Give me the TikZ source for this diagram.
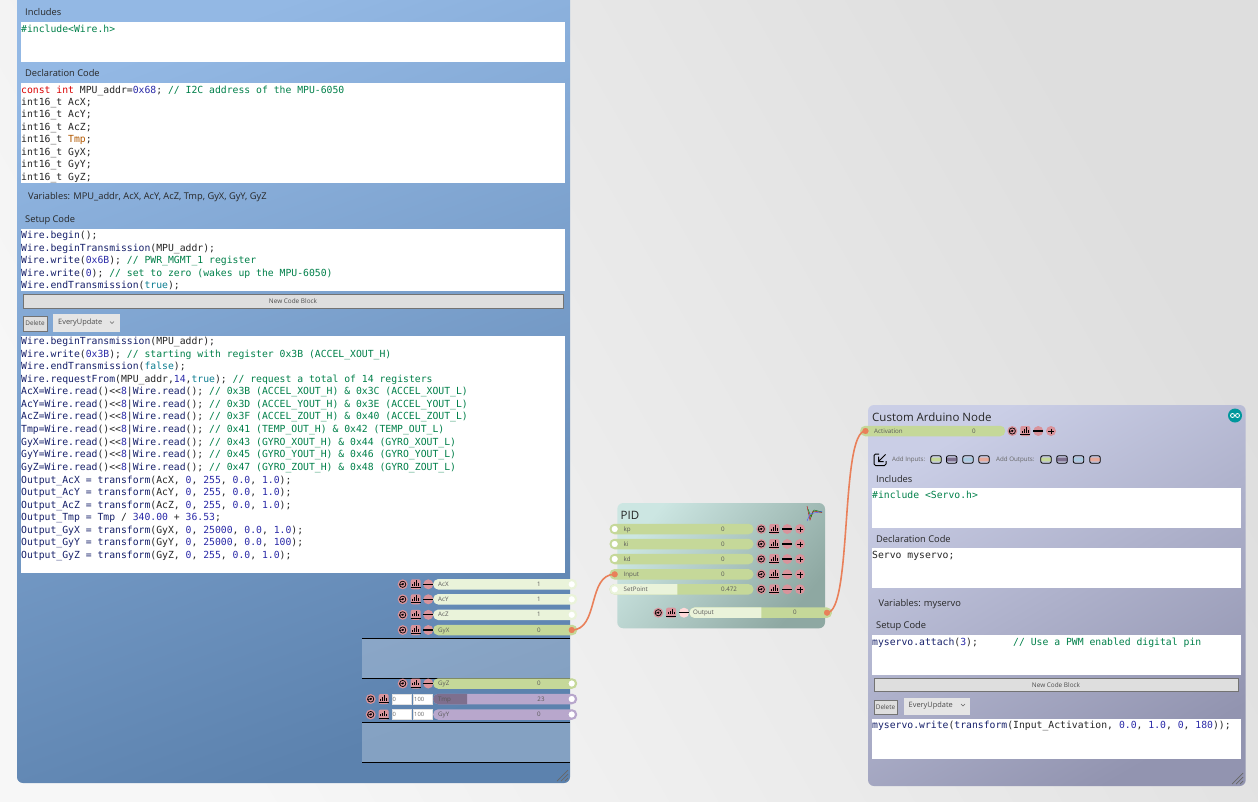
\documentclass[tikz,border=0pt]{standalone}
\usepackage{fontspec}
\setmainfont{Open Sans}
\setmonofont{DejaVu Sans Mono}
\usetikzlibrary{calc}
\definecolor{barlight}{HTML}{EAF3DA}
\definecolor{bargreen}{HTML}{C5D899}
\definecolor{barpurple}{HTML}{B8A7CC}
\definecolor{bardark}{HTML}{7E6F8E}
\definecolor{pinkicon}{HTML}{D9939B}
\definecolor{wireorange}{HTML}{E9805A}
\definecolor{txtcomment}{HTML}{00804A}
\definecolor{txtnavy}{HTML}{16206A}
\definecolor{txtnum}{HTML}{2A2AA8}
\definecolor{txtbool}{HTML}{0A7C90}
\definecolor{bluetop}{HTML}{93B8E4}
\definecolor{bluemid}{HTML}{7399C8}
\definecolor{bluebot}{HTML}{5C82AE}
\definecolor{pidtop}{HTML}{CCE6E2}
\definecolor{pidbot}{HTML}{8EA8A2}
\definecolor{ardtop}{HTML}{CACEE6}
\definecolor{ardbot}{HTML}{9294B0}
\definecolor{portblue}{HTML}{A8CBE0}
\definecolor{portsalmon}{HTML}{E6A99A}
\definecolor{ardteal}{HTML}{00979C}
\newcommand{\ckw}[1]{\textcolor{red!85!black}{#1}}
\newcommand{\ccm}[1]{\textcolor{txtcomment}{#1}}
\newcommand{\cfn}[1]{\textcolor{txtnavy}{#1}}
\newcommand{\cnum}[1]{\textcolor{txtnum}{#1}}
\newcommand{\cbool}[1]{\textcolor{txtbool}{#1}}
\tikzset{
  codetext/.style={anchor=base west,inner sep=0pt,font=\ttfamily\fontsize{9.76}{11}\selectfont,text=black!85},
  uilabel/.style={anchor=base west,inner sep=0pt,font=\fontsize{9.3}{11}\selectfont,text=black!85},
  titletext/.style={anchor=base west,inner sep=0pt,font=\fontsize{11.5}{13}\selectfont,text=black!85},
  rowtext/.style={anchor=base,inner sep=0pt,font=\fontsize{6.2}{7}\selectfont,text=black!65},
  codebox/.style={fill=white},
  rowbarstyle/.style={anchor=west,inner sep=0pt,minimum height=10.5pt,rounded corners=5pt},
  pinnode/.style={circle,inner sep=0pt,minimum size=8pt,line width=1.4pt,fill=white},
  pinkdot/.style={circle,inner sep=0pt,minimum size=10pt,fill=pinkicon},
  pinksq/.style={rectangle,rounded corners=2pt,inner sep=0pt,minimum size=10pt,fill=pinkicon},
  wire/.style={wireorange,line width=1.6pt},
  flatbtn/.style={fill=black!13,draw=black!55,line width=.8pt,inner sep=0pt},
  dropbtn/.style={fill=black!10,inner sep=0pt},
  smalltext/.style={font=\fontsize{6.4}{8}\selectfont,text=black!70,inner sep=0pt},
  boxinput/.style={fill=white,draw=black!12,inner xsep=1pt,inner ysep=0pt,anchor=west,text width=17pt,align=left,minimum height=10pt,font=\fontsize{5.8}{7}\selectfont,text=black!60},
  portbox/.style={rectangle,rounded corners=2pt,draw=black,line width=.8pt,inner sep=0pt,minimum width=10.5pt,minimum height=7.5pt},
  lightband/.style={fill=white,fill opacity=.25}
}
\newcommand{\codeline}[4]{\node[codetext] (#1) at (#2,#3+3.5) {#4};}
\newcommand{\rowbar}[5]{\node[rowbarstyle,fill=#5,minimum width=#3pt] (#1) at (#2,#4) {};}
\newcommand{\rowlight}[5]{\begin{scope}\clip (#2,#4-6) rectangle (#2+#3,#4+6);\node[rowbarstyle,fill=#5,minimum width=160pt] (#1) at (#2,#4) {};\end{scope}}
\newcommand{\rowlabels}[6]{\node[rowtext,anchor=base west] (#1-l) at (#2,#4+2) {#5};\node[rowtext] (#1-v) at (#3,#4+2) {#6};}
\newcommand{\recicon}[3]{\node[pinkdot] (#1) at (#2,#3) {};
  \draw[line width=.7pt] (#1) circle (3.1pt);
  \fill (#1) circle (1.1pt);
  \draw[line width=.6pt] (#2-3.4,#3+.8) -- (#2+1,#3-.8);}
\newcommand{\baricon}[3]{\node[pinksq] (#1) at (#2,#3) {};
  \draw[line width=1pt] (#2-3,#3+1.5) -- (#2-3,#3-.5) (#2-1,#3+1.5) -- (#2-1,#3-2) (#2+1,#3+1.5) -- (#2+1,#3-4) (#2+3,#3+1.5) -- (#2+3,#3-1);
  \draw[line width=1pt] (#2-5,#3+3.6) -- (#2+5,#3+3.6);}
\newcommand{\minusicon}[3]{\node[pinkdot] (#1) at (#2,#3) {};
  \draw[line width=1.2pt] (#2-5,#3) -- (#2+5,#3);}
\newcommand{\plusicon}[3]{\node[pinkdot] (#1) at (#2,#3) {};
  \draw[line width=.7pt] (#2-2.8,#3+.5) -- (#2+2.8,#3+.5) (#2,#3-2.3) -- (#2,#3+3.3);}
\newcommand{\outicons}[3]{\recicon{#1-rec}{#2}{#3}\baricon{#1-bar}{#2+13}{#3}\minusicon{#1-min}{#2+25.6}{#3}}
\newcommand{\inicons}[3]{\recicon{#1-rec}{#2}{#3}\baricon{#1-bar}{#2+13}{#3}\minusicon{#1-min}{#2+26}{#3}\plusicon{#1-plus}{#2+38.7}{#3}}
\newcommand{\addport}[3]{\node[rectangle,rounded corners=1pt,inner sep=0pt,minimum width=10.5pt,minimum height=3.6pt,fill=#3] (#1-c) at (#2,459.5) {};\node[portbox] (#1) at (#2,459.5) {};}
\newcommand{\gripmark}[2]{\draw[black!60,line width=.7pt] (#1,#2) -- (#1+11,#2-11) (#1+4,#2) -- (#1+11,#2-7) (#1+8,#2) -- (#1+11,#2-3);}
\begin{document}
\begin{tikzpicture}[x=1pt,y=-1pt]
\useasboundingbox (0,0) rectangle (1258,801);
\clip (0,0) rectangle (1258,801);
\shade[top color=black!13,bottom color=black!3,shading angle=-60] (0,0) rectangle (1258,801);

\shade[rounded corners=6pt,top color=bluetop,middle color=bluemid,bottom color=bluebot,shading angle=20] (17,-12) rectangle (570,783);
\node[uilabel] (incl-l) at (25,15.5) {Includes};
\fill[codebox] (21,22) rectangle (565,62);
\codeline{incl}{21}{28.5}{\ccm{\#include<Wire.h>}}
\node[uilabel] (decl-l) at (25,76) {Declaration Code};
\fill[codebox] (21,83) rectangle (565,183);
\codeline{decl0}{21}{89.5}{\ckw{const int} MPU\_addr=\cnum{0x68}; \ccm{// I2C address of the MPU-6050}}
\codeline{decl1}{21}{101.5}{int16\_t AcX;}
\codeline{decl2}{21}{114}{int16\_t AcY;}
\codeline{decl3}{21}{126.5}{int16\_t AcZ;}
\codeline{decl4}{21}{139}{int16\_t \textcolor{orange!70!black}{Tmp};}
\codeline{decl5}{21}{151.5}{int16\_t GyX;}
\codeline{decl6}{21}{164}{int16\_t GyY;}
\codeline{decl7}{21}{176.5}{int16\_t GyZ;}
\node[uilabel] (vars-l) at (28,199) {Variables: MPU\_addr, AcX, AcY, AcZ, Tmp, GyX, GyY, GyZ};
\node[uilabel] (setup-l) at (25,222.5) {Setup Code};
\fill[codebox] (21,229) rectangle (565,291);
\codeline{setup0}{21}{235}{\cfn{Wire.begin}();}
\codeline{setup1}{21}{247.5}{\cfn{Wire.beginTransmission}(MPU\_addr);}
\codeline{setup2}{21}{260}{\cfn{Wire.write}(\cnum{0x6B}); \ccm{// PWR\_MGMT\_1 register}}
\codeline{setup3}{21}{272.5}{\cfn{Wire.write}(\cnum{0}); \ccm{// set to zero (wakes up the MPU-6050)}}
\codeline{setup4}{21}{285}{\cfn{Wire.endTransmission}(\cbool{true});}
\node[flatbtn,smalltext,minimum width=540pt,minimum height=14pt] (newblock) at (293,301) {New Code Block};
\node[flatbtn,smalltext,minimum width=24pt,minimum height=15pt] (delete) at (35,323.5) {Delete};
\node[dropbtn,minimum width=67pt,minimum height=18pt] (drop) at (86.5,323) {};
\node[smalltext,anchor=west,font=\fontsize{7.4}{9}\selectfont] (drop-t) at (58,322.5) {EveryUpdate};
\draw[black!60,line width=.6pt] (110,321.5) -- (112,323.5) -- (114,321.5);
\fill[codebox] (21,336) rectangle (565,573);
\codeline{main0}{21}{341}{\cfn{Wire.beginTransmission}(MPU\_addr);}
\codeline{main1}{21}{353.5}{\cfn{Wire.write}(\cnum{0x3B}); \ccm{// starting with register 0x3B (ACCEL\_XOUT\_H)}}
\codeline{main2}{21}{366}{\cfn{Wire.endTransmission}(\cbool{false});}
\codeline{main3}{21}{378.5}{\cfn{Wire.requestFrom}(MPU\_addr,\cnum{14},\cbool{true}); \ccm{// request a total of 14 registers}}
\codeline{main4}{21}{391}{\cfn{AcX=Wire.read}()<<\cnum{8}|\cfn{Wire.read}(); \ccm{// 0x3B (ACCEL\_XOUT\_H) \& 0x3C (ACCEL\_XOUT\_L)}}
\codeline{main5}{21}{403.7}{\cfn{AcY=Wire.read}()<<\cnum{8}|\cfn{Wire.read}(); \ccm{// 0x3D (ACCEL\_YOUT\_H) \& 0x3E (ACCEL\_YOUT\_L)}}
\codeline{main6}{21}{416.3}{\cfn{AcZ=Wire.read}()<<\cnum{8}|\cfn{Wire.read}(); \ccm{// 0x3F (ACCEL\_ZOUT\_H) \& 0x40 (ACCEL\_ZOUT\_L)}}
\codeline{main7}{21}{429}{\cfn{Tmp=Wire.read}()<<\cnum{8}|\cfn{Wire.read}(); \ccm{// 0x41 (TEMP\_OUT\_H) \& 0x42 (TEMP\_OUT\_L)}}
\codeline{main8}{21}{441.5}{\cfn{GyX=Wire.read}()<<\cnum{8}|\cfn{Wire.read}(); \ccm{// 0x43 (GYRO\_XOUT\_H) \& 0x44 (GYRO\_XOUT\_L)}}
\codeline{main9}{21}{454}{\cfn{GyY=Wire.read}()<<\cnum{8}|\cfn{Wire.read}(); \ccm{// 0x45 (GYRO\_YOUT\_H) \& 0x46 (GYRO\_YOUT\_L)}}
\codeline{main10}{21}{466.5}{\cfn{GyZ=Wire.read}()<<\cnum{8}|\cfn{Wire.read}(); \ccm{// 0x47 (GYRO\_ZOUT\_H) \& 0x48 (GYRO\_ZOUT\_L)}}
\codeline{main11}{21}{479.5}{\cfn{Output\_AcX = transform}(AcX, \cnum{0}, \cnum{255}, \cnum{0.0}, \cnum{1.0});}
\codeline{main12}{21}{492}{\cfn{Output\_AcY = transform}(AcY, \cnum{0}, \cnum{255}, \cnum{0.0}, \cnum{1.0});}
\codeline{main13}{21}{504.5}{\cfn{Output\_AcZ = transform}(AcZ, \cnum{0}, \cnum{255}, \cnum{0.0}, \cnum{1.0});}
\codeline{main14}{21}{517}{\cfn{Output\_Tmp = Tmp} / \cnum{340.00} + \cnum{36.53};}
\codeline{main15}{21}{529.5}{\cfn{Output\_GyX = transform}(GyX, \cnum{0}, \cnum{25000}, \cnum{0.0}, \cnum{1.0});}
\codeline{main16}{21}{542}{\cfn{Output\_GyY = transform}(GyY, \cnum{0}, \cnum{25000}, \cnum{0.0}, \cnum{100});}
\codeline{main17}{21}{554.5}{\cfn{Output\_GyZ = transform}(GyZ, \cnum{0}, \cnum{255}, \cnum{0.0}, \cnum{1.0});}

\fill[lightband] (362,638.3) rectangle (570,678.3);
\draw[black,line width=.8pt] (362,638.3) -- (570,638.3) (362,678.3) -- (570,678.3);
\fill[lightband] (362,722.3) rectangle (570,762.3);
\draw[black,line width=.8pt] (362,722.3) -- (570,722.3) (362,762.3) -- (570,762.3);
\outicons{acx}{402.7}{584.3}
\outicons{acy}{402.7}{599.3}
\outicons{acz}{402.7}{614.8}
\outicons{gyx}{402.7}{630}
\outicons{gyz}{402.7}{683.5}
\recicon{tmp-rec}{370.7}{699}\baricon{tmp-bar}{383.7}{699}
\recicon{gyy-rec}{370.7}{714.5}\baricon{gyy-bar}{383.7}{714.5}
\node[boxinput] (tmp-min) at (391.5,699) {0};
\node[boxinput] (tmp-max) at (413,699) {100};
\node[boxinput] (gyy-min) at (391.5,714.5) {0};
\node[boxinput] (gyy-max) at (413,714.5) {100};
\rowbar{acx}{433}{144}{584.3}{barlight}
\rowbar{acy}{433}{144}{599.3}{barlight}
\rowbar{acz}{433}{144}{614.8}{barlight}
\rowbar{gyx}{433}{144}{630}{bargreen}
\rowbar{gyz}{433}{144}{683.5}{bargreen}
\rowbar{tmp}{433}{144}{699}{barpurple}
\rowlight{tmp-p}{433}{34}{699}{bardark}
\rowbar{gyy}{433}{144}{714.5}{barpurple}
\rowlabels{acx}{438}{539}{584.3}{AcX}{1}
\rowlabels{acy}{438}{539}{599.3}{AcY}{1}
\rowlabels{acz}{438}{539}{614.8}{AcZ}{1}
\rowlabels{gyx}{438}{539}{630}{GyX}{0}
\rowlabels{gyz}{438}{539}{683.5}{GyZ}{0}
\rowlabels{tmp}{438}{541}{699}{Tmp}{23}
\rowlabels{gyy}{438}{539}{714.5}{GyY}{0}
\node[pinnode,draw=barlight] (acx-pin) at (571.7,584.3) {};
\node[pinnode,draw=barlight] (acy-pin) at (571.7,599.3) {};
\node[pinnode,draw=barlight] (acz-pin) at (571.7,614.8) {};
\node[pinnode,draw=bargreen,fill=wireorange] (gyx-pin) at (571.7,630) {};
\node[pinnode,draw=bargreen] (gyz-pin) at (571.7,683.5) {};
\node[pinnode,draw=barpurple] (tmp-pin) at (571.7,699) {};
\node[pinnode,draw=barpurple] (gyy-pin) at (571.7,714.5) {};
\gripmark{557}{781}

\shade[rounded corners=6pt,top color=pidtop,bottom color=pidbot,shading angle=50] (617.3,503) rectangle (825,628.3);
\node[titletext] (pid-title) at (620.5,519.5) {PID};
\draw[red!70!black,line width=.4pt] (807,506) -- (810,520) -- (813,511) -- (822,512.5);
\draw[green!50!black,line width=.4pt] (808,509) -- (811,517) -- (814,510) -- (822,512);
\draw[blue!70,line width=.4pt] (807,521) -- (810,514) -- (814,513) -- (822,511.5);
\rowbar{kp}{609.3}{144}{529}{bargreen}
\rowbar{ki}{609.3}{144}{544}{bargreen}
\rowbar{kd}{609.3}{144}{559}{bargreen}
\rowbar{input}{609.3}{144}{574.3}{bargreen}
\rowbar{setpoint}{609.3}{144}{589.3}{bargreen}
\rowlight{setpoint-p}{609.3}{68}{589.3}{barlight}
\rowlabels{kp}{623.5}{723}{529}{kp}{0}
\rowlabels{ki}{623.5}{723}{544}{ki}{0}
\rowlabels{kd}{623.5}{723}{559}{kd}{0}
\rowlabels{input}{623.5}{723}{574.3}{Input}{0}
\rowlabels{setpoint}{623.5}{729}{589.3}{SetPoint}{0.472}
\node[pinnode,draw=bargreen] (kp-pin) at (614.7,529) {};
\node[pinnode,draw=bargreen] (ki-pin) at (614.7,544) {};
\node[pinnode,draw=bargreen] (kd-pin) at (614.7,559) {};
\node[pinnode,draw=bargreen,fill=wireorange] (input-pin) at (614.7,574.3) {};
\node[pinnode,draw=barlight] (setpoint-pin) at (614.7,589.3) {};
\inicons{kp}{761.3}{529}
\inicons{ki}{761.3}{544}
\inicons{kd}{761.3}{559}
\inicons{input}{761.3}{574.3}
\inicons{setpoint}{761.3}{589.3}
\recicon{output-rec}{658.3}{612.7}\baricon{output-bar}{671}{612.7}
\node[pinkdot,fill=pink!60!white] (output-min) at (684,612.7) {};
\draw[line width=1.2pt] (679,612.7) -- (689,612.7);
\rowbar{output}{689.3}{142.4}{612.7}{bargreen}
\rowlight{output-p}{689.3}{72}{612.7}{barlight}
\rowlabels{output}{693}{795}{612.7}{Output}{0}
\node[pinnode,draw=bargreen,fill=wireorange] (output-pin) at (827,612.7) {};

\shade[rounded corners=6pt,top color=ardtop,bottom color=ardbot,shading angle=30] (868,405) rectangle (1245.7,786);
\node[titletext] (ard-title) at (872,421) {Custom Arduino Node};
\node[circle,fill=ardteal,inner sep=0pt,minimum size=14pt] (ard-logo) at (1235,415.5) {};
\draw[white,line width=.8pt] (1232.5,415.5) circle (2pt) (1237.5,415.5) circle (2pt);
\rowbar{act}{860}{145}{431}{bargreen}
\rowlabels{act}{874}{974}{431}{Activation}{0}
\node[pinnode,draw=bargreen,fill=wireorange] (act-pin) at (865.5,431) {};
\inicons{act}{1012.3}{431}
\draw[line width=1pt,rounded corners=1.5pt] (879,454) -- (874,454) -- (874,465.5) -- (886,465.5) -- (886,461);
\draw[line width=1pt] (885.5,454.5) -- (878.5,461.5) (878.5,456.5) -- (878.5,461.5) -- (883.5,461.5);
\node[uilabel,font=\fontsize{6.2}{8}\selectfont,text=black!60] (addin-l) at (892,461.5) {Add Inputs:};
\addport{in1}{936}{bargreen}
\addport{in2}{951.7}{bardark}
\addport{in3}{968}{portblue}
\addport{in4}{984}{portsalmon}
\node[uilabel,font=\fontsize{6.2}{8}\selectfont,text=black!60] (addout-l) at (996,461.5) {Add Outputs:};
\addport{out1}{1046}{bargreen}
\addport{out2}{1062}{bardark}
\addport{out3}{1078.5}{portblue}
\addport{out4}{1095}{portsalmon}
\node[uilabel] (aincl-l) at (876,482) {Includes};
\fill[codebox] (872,488) rectangle (1241,528);
\codeline{aincl}{872}{495}{\ccm{\#include <Servo.h>}}
\node[uilabel] (adecl-l) at (876,542) {Declaration Code};
\fill[codebox] (872,548) rectangle (1241,588);
\codeline{adecl}{872}{555}{Servo myservo;}
\node[uilabel] (avars-l) at (878.5,606) {Variables: myservo};
\node[uilabel] (asetup-l) at (876,628) {Setup Code};
\fill[codebox] (872,635) rectangle (1241,675);
\codeline{asetup}{872}{641.5}{\cfn{myservo.attach}(\cnum{3});~~~~~~\ccm{// Use a PWM enabled digital pin}}
\node[flatbtn,smalltext,minimum width=364pt,minimum height=13pt] (anewblock) at (1056,685) {New Code Block};
\node[flatbtn,smalltext,minimum width=23pt,minimum height=14pt] (adelete) at (885.5,707) {Delete};
\node[dropbtn,minimum width=66pt,minimum height=17pt] (adrop) at (937,706) {};
\node[smalltext,anchor=west,font=\fontsize{7.4}{9}\selectfont] (adrop-t) at (908.5,705.5) {EveryUpdate};
\draw[black!60,line width=.6pt] (961,704) -- (963,706) -- (965,704);
\fill[codebox] (872,719) rectangle (1241,759);
\codeline{aloop}{872}{725}{\cfn{myservo.write}(\cfn{transform}(Input\_Activation, \cnum{0.0}, \cnum{1.0}, \cnum{0}, \cnum{180}));}
\gripmark{1232}{784}

\draw[wire] (gyx-pin.center) to[out=0,in=180] (input-pin.center);
\draw[wire] (output-pin.center) to[out=0,in=180,looseness=.35] (act-pin.center);
\end{tikzpicture}
\end{document}
